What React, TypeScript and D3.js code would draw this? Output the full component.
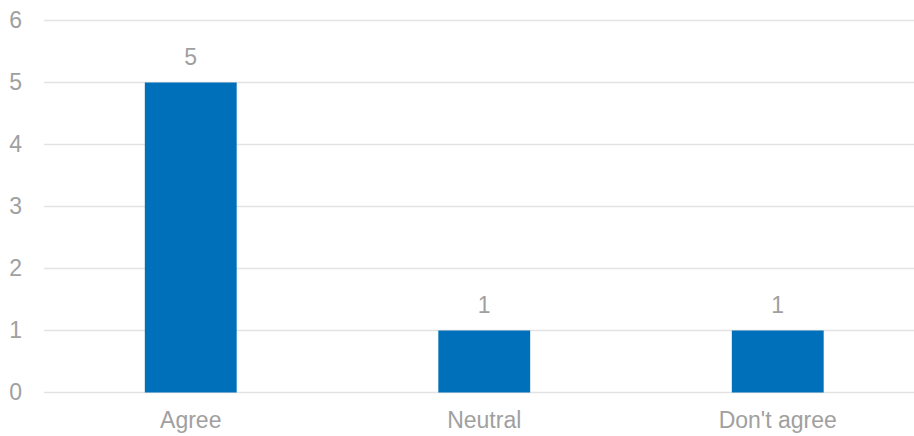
import React from "react";
import * as d3 from "d3";

const categories = ["Agree", "Neutral", "Don't agree"];
const values = [5, 1, 1];
const yTicks = [0, 1, 2, 3, 4, 5, 6];

const W = 914;
const H = 436;

export default function App() {
  const x = d3.scaleBand<string>().domain(categories).range([44, 924.5]).paddingInner(0.687).paddingOuter(0.3435);
  const y = d3.scaleLinear().domain([0, 6]).range([392.5, 20.5]);
  const font = "'Liberation Sans', Arial, sans-serif";
  const gray = "#a0a0a0";
  const fs = 23;
  return (
    <div style={{ position: "fixed", left: 0, top: 0 }}>
      <svg width={W} height={H} style={{ display: "block", background: "#fff" }}>
        {yTicks.map((t) => (
          <g key={t}>
            <line x1={44} x2={W} y1={y(t)} y2={y(t)} stroke="#e3e3e3" strokeWidth={1.5} />
            <text x={22} y={y(t) + 7} textAnchor="end" fontFamily={font} fontSize={fs} fill={gray}>
              {t}
            </text>
          </g>
        ))}
        {categories.map((c, i) => (
          <g key={c}>
            <rect x={x(c)!} width={x.bandwidth()} y={y(values[i])} height={y(0) - y(values[i])} fill="#0070ba" />
            <text x={x(c)! + x.bandwidth() / 2} y={y(values[i]) - 17.5} textAnchor="middle" fontFamily={font} fontSize={fs} fill={gray}>
              {values[i]}
            </text>
            <text x={x(c)! + x.bandwidth() / 2} y={427.5} textAnchor="middle" fontFamily={font} fontSize={fs} fill={gray}>
              {c}
            </text>
          </g>
        ))}
      </svg>
    </div>
  );
}
